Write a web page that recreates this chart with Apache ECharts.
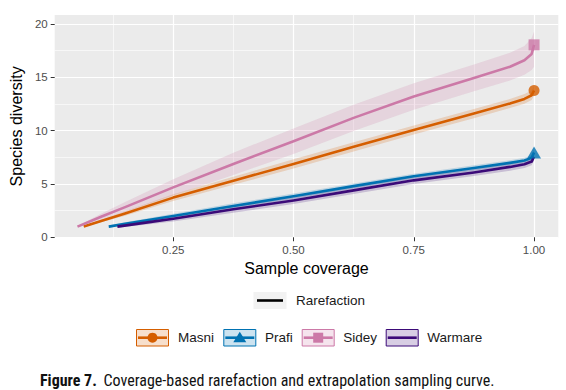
<!DOCTYPE html>
<html>
<head>
<meta charset="utf-8">
<script src="https://cdn.jsdelivr.net/npm/echarts@6/dist/echarts.min.js"></script>
<style>
html,body{margin:0;padding:0;background:#fff;}
#c{width:566px;height:390px;}
</style>
</head>
<body>
<div id="c"></div>
<script>
// ---- data ----
const groups = ['Masni', 'Prafi', 'Sidey', 'Warmare'];
const colors = ['#D55E00', '#0072B2', '#CC79A7', '#3B0A78'];
const symbols = ['circle', 'triangle', 'rect', 'none'];

const masniX  = [0.064, 0.10, 0.15, 0.25, 0.375, 0.5, 0.625, 0.75, 0.875, 0.95, 0.98, 0.995, 1.0];
const masniY  = [1.0, 1.52, 2.24, 3.72, 5.3, 6.88, 8.48, 10.06, 11.6, 12.55, 12.98, 13.32, 13.77];
const masniLo = [0.95, 1.4, 2.03, 3.4, 4.92, 6.45, 8.05, 9.63, 11.17, 12.12, 12.53, 12.88, 13.3];
const masniHi = [1.05, 1.64, 2.45, 4.04, 5.68, 7.31, 8.91, 10.49, 12.03, 12.98, 13.43, 13.76, 14.2];

const prafiX  = [0.116, 0.15, 0.25, 0.375, 0.5, 0.625, 0.75, 0.875, 0.95, 0.98, 0.995, 1.0];
const prafiY  = [1.0, 1.26, 2.0, 2.93, 3.85, 4.8, 5.72, 6.5, 6.98, 7.2, 7.45, 7.95];
const prafiLo = [0.9, 1.11, 1.8, 2.68, 3.6, 4.55, 5.47, 6.25, 6.73, 6.95, 7.2, 7.65];
const prafiHi = [1.1, 1.41, 2.2, 3.18, 4.1, 5.05, 5.97, 6.75, 7.23, 7.45, 7.7, 8.25];

const sideyX  = [0.051, 0.10, 0.15, 0.25, 0.375, 0.5, 0.625, 0.75, 0.875, 0.95, 0.98, 0.995, 1.0];
const sideyY  = [1.0, 1.93, 2.83, 4.68, 6.88, 9.0, 11.2, 13.2, 14.95, 16.0, 16.6, 17.2, 18.05];
const sideyLo = [0.95, 1.7, 2.4, 3.95, 5.85, 7.8, 9.98, 11.97, 13.7, 14.7, 15.25, 15.7, 16.0];
const sideyHi = [1.05, 2.2, 3.3, 5.45, 7.93, 10.2, 12.42, 14.45, 16.2, 17.3, 17.95, 18.7, 19.3];

const warmX  = [0.134, 0.20, 0.25, 0.375, 0.5, 0.625, 0.75, 0.875, 0.95, 0.98, 0.995, 1.0];
const warmY  = [1.0, 1.42, 1.74, 2.62, 3.45, 4.4, 5.34, 6.08, 6.6, 6.85, 7.1, 7.55];
const warmLo = [0.9, 1.22, 1.47, 2.3, 3.12, 4.05, 4.99, 5.75, 6.25, 6.5, 6.75, 7.2];
const warmHi = [1.1, 1.62, 2.01, 2.94, 3.78, 4.75, 5.69, 6.41, 6.95, 7.2, 7.45, 7.9];

const xTicks = [0.25, 0.50, 0.75, 1.00];
const xMinorTicks = [0.125, 0.375, 0.625, 0.875];
const yTicks = [0, 5, 10, 15, 20];
const yMinorTicks = [2.5, 7.5, 12.5, 17.5];

const xTitle = 'Sample coverage';
const yTitle = 'Species diversity';
const legendTitle = 'Rarefaction';
const captionBold = 'Figure 7.';
const captionText = 'Coverage-based rarefaction and extrapolation sampling curve.';

// ---- build ----
const all = [
  [masniX, masniY, masniLo, masniHi],
  [prafiX, prafiY, prafiLo, prafiHi],
  [sideyX, sideyY, sideyLo, sideyHi],
  [warmX, warmY, warmLo, warmHi]
];

function rgba(hex, a) {
  const n = parseInt(hex.slice(1), 16);
  return 'rgba(' + ((n >> 16) & 255) + ',' + ((n >> 8) & 255) + ',' + (n & 255) + ',' + a + ')';
}

const series = [];
all.forEach(function (g, gi) {
  const xs = g[0], lo = g[2], hi = g[3];
  series.push({
    type: 'custom', name: groups[gi] + ' band', silent: true, clip: true, z: 1,
    data: xs.map(function (x, i) { return [x, lo[i], hi[i]]; }),
    encode: { x: 0, y: [1, 2] },
    renderItem: function (params, api) {
      if (params.dataIndex !== 0) return null;
      const pts = [];
      for (let i = 0; i < xs.length; i++) pts.push(api.coord([xs[i], hi[i]]));
      for (let i = xs.length - 1; i >= 0; i--) pts.push(api.coord([xs[i], lo[i]]));
      return { type: 'polygon', shape: { points: pts }, style: { fill: rgba(colors[gi], 0.2) } };
    }
  });
});
all.forEach(function (g, gi) {
  const xs = g[0], ys = g[1];
  series.push({
    type: 'line', name: groups[gi], z: 3,
    data: xs.map(function (x, i) { return [x, ys[i]]; }),
    showSymbol: false, symbol: 'none', smooth: false,
    lineStyle: { color: colors[gi], width: 2.6, cap: 'butt', join: 'round' },
    silent: true
  });
  if (symbols[gi] !== 'none') {
    const last = xs.length - 1;
    series.push({
      type: 'scatter', name: groups[gi] + ' end', z: 4, silent: true,
      symbol: symbols[gi],
      symbolSize: symbols[gi] === 'triangle' ? [14, 12] : 11,
      itemStyle: { color: colors[gi] },
      data: [[xs[last], ys[last]]]
    });
  }
});

// legend graphics
const graphic = [];
graphic.push({ type: 'rect', shape: { x: 253.5, y: 292, width: 33, height: 17 }, style: { fill: '#F2F2F2' } });
graphic.push({ type: 'line', shape: { x1: 257, y1: 300.5, x2: 283, y2: 300.5 }, style: { stroke: '#000', lineWidth: 2.6 } });
graphic.push({ type: 'text', x: 296, y: 300.5, style: { text: legendTitle, fill: '#1A1A1A', font: '13.5px "Liberation Sans", Arial, sans-serif', textVerticalAlign: 'middle' } });

const keyX = [136, 223.3, 301.7, 385.7];
const labX = [178, 265, 343.3, 427.3];
groups.forEach(function (name, gi) {
  const x0 = keyX[gi], cy = 337.7;
  graphic.push({ type: 'rect', shape: { x: x0 + 0.5, y: 329.5, width: 32, height: 16.5 },
    style: { fill: rgba(colors[gi], 0.2), stroke: colors[gi], lineWidth: 1 } });
  graphic.push({ type: 'line', shape: { x1: x0 + 2, y1: cy, x2: x0 + 31, y2: cy },
    style: { stroke: colors[gi], lineWidth: 2.6 } });
  const cx = x0 + 16.5;
  if (symbols[gi] === 'circle') {
    graphic.push({ type: 'circle', shape: { cx: cx, cy: cy, r: 5 }, style: { fill: colors[gi] } });
  } else if (symbols[gi] === 'triangle') {
    graphic.push({ type: 'polygon', shape: { points: [[cx, cy - 6], [cx + 6.5, cy + 4.5], [cx - 6.5, cy + 4.5]] }, style: { fill: colors[gi] } });
  } else if (symbols[gi] === 'rect') {
    graphic.push({ type: 'rect', shape: { x: cx - 5, y: cy - 5, width: 10, height: 10 }, style: { fill: colors[gi] } });
  }
  graphic.push({ type: 'text', x: labX[gi], y: cy, style: { text: name, fill: '#1A1A1A', font: '13.5px "Liberation Sans", Arial, sans-serif', textVerticalAlign: 'middle' } });
});

graphic.push({
  type: 'text', x: 40, y: 380,
  style: {
    text: '{b|' + captionBold + '}  {n|' + captionText + '}',
    textVerticalAlign: 'middle',
    rich: {
      b: { font: 'bold 16px "Liberation Sans Narrow", "Roboto Condensed", "Liberation Sans", sans-serif', fill: '#111' },
      n: { font: '16px "Liberation Sans Narrow", "Roboto Condensed", "Liberation Sans", sans-serif', fill: '#111' }
    }
  }
});

const chart = echarts.init(document.getElementById('c'), null, { renderer: 'svg' });
chart.setOption({
  animation: false,
  backgroundColor: '#fff',
  grid: { left: 54, right: 7.7, top: 15, bottom: 152.2, show: true, backgroundColor: '#EBEBEB', borderWidth: 0 },
  xAxis: [{
    type: 'value', min: 0.0036, max: 1.0504,
    name: xTitle, nameLocation: 'middle', nameGap: 19,
    nameTextStyle: { fontFamily: 'Liberation Sans', fontSize: 16, color: '#000', verticalAlign: 'top' },
    axisLine: { show: false },
    axisTick: { show: true, length: 4, lineStyle: { color: '#333', width: 1 }, customValues: xTicks },
    axisLabel: { customValues: xTicks, formatter: function (v) { return v.toFixed(2); }, color: '#4D4D4D', fontFamily: 'Liberation Sans', fontSize: 11.5, margin: 6 },
    splitLine: { show: true, lineStyle: { color: '#FFFFFF', width: 1.2 } }
  }, {
    type: 'value', min: 0.0036, max: 1.0504, position: 'bottom',
    axisLine: { show: false }, axisLabel: { show: false },
    axisTick: { show: false, customValues: xMinorTicks },
    splitLine: { show: true, lineStyle: { color: '#FFFFFF', width: 0.6 } }
  }],
  yAxis: [{
    type: 'value', min: -0.05, max: 20.85,
    name: yTitle, nameLocation: 'middle', nameGap: 26,
    nameTextStyle: { fontFamily: 'Liberation Sans', fontSize: 16, color: '#000' },
    axisLine: { show: false },
    axisTick: { show: true, length: 4, lineStyle: { color: '#333', width: 1 }, customValues: yTicks },
    axisLabel: { customValues: yTicks, color: '#4D4D4D', fontFamily: 'Liberation Sans', fontSize: 11.5, margin: 7 },
    splitLine: { show: true, lineStyle: { color: '#FFFFFF', width: 1.2 } }
  }, {
    type: 'value', min: -0.05, max: 20.85, position: 'left',
    axisLine: { show: false }, axisLabel: { show: false },
    axisTick: { show: false, customValues: yMinorTicks },
    splitLine: { show: true, lineStyle: { color: '#FFFFFF', width: 0.6 } }
  }],
  graphic: graphic,
  series: series
});
</script>
</body>
</html>
